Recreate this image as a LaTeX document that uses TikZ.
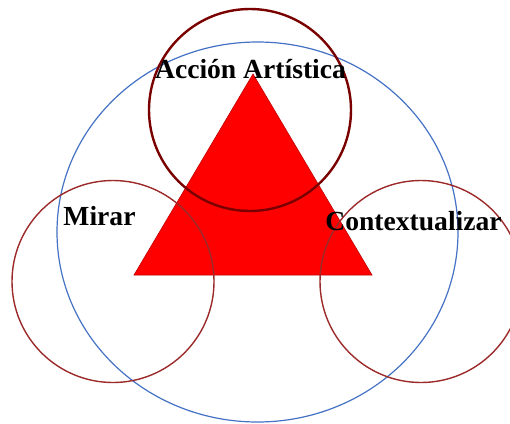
\documentclass[tikz,border=0pt]{standalone}
\usepackage{fontspec}
\setmainfont{Liberation Serif}
\definecolor{ringblue}{HTML}{4472C4}
\definecolor{topring}{HTML}{7A0000}
\definecolor{sidering}{HTML}{9C2A2A}
\begin{document}
\begin{tikzpicture}[x=1pt,y=-1pt,
  lbl/.style={font=\bfseries\fontsize{27.6}{30}\selectfont, inner sep=0pt, anchor=base}]
\useasboundingbox (0,0) rectangle (510,423);
\draw[ringblue, line width=1.2pt] (257.5,232) ellipse [x radius=200.5pt, y radius=190pt];
\filldraw[fill=red, draw=red!75!black, line width=0.6pt] (253,74) -- (134,275) -- (372,275) -- cycle;
\draw[topring, line width=2.4pt] (250,110) circle [radius=101pt];
\draw[sidering, line width=1.4pt] (113,281.5) circle [radius=101pt];
\draw[sidering, line width=1.4pt] (421,281.5) circle [radius=101pt];

\node[lbl] (accion) at (250.5,78) {Acción Artística};
\node[lbl] (mirar) at (99.5,225) {Mirar};
\node[lbl] (contexto) at (413.5,230) {Contextualizar};
\end{tikzpicture}
\end{document}
